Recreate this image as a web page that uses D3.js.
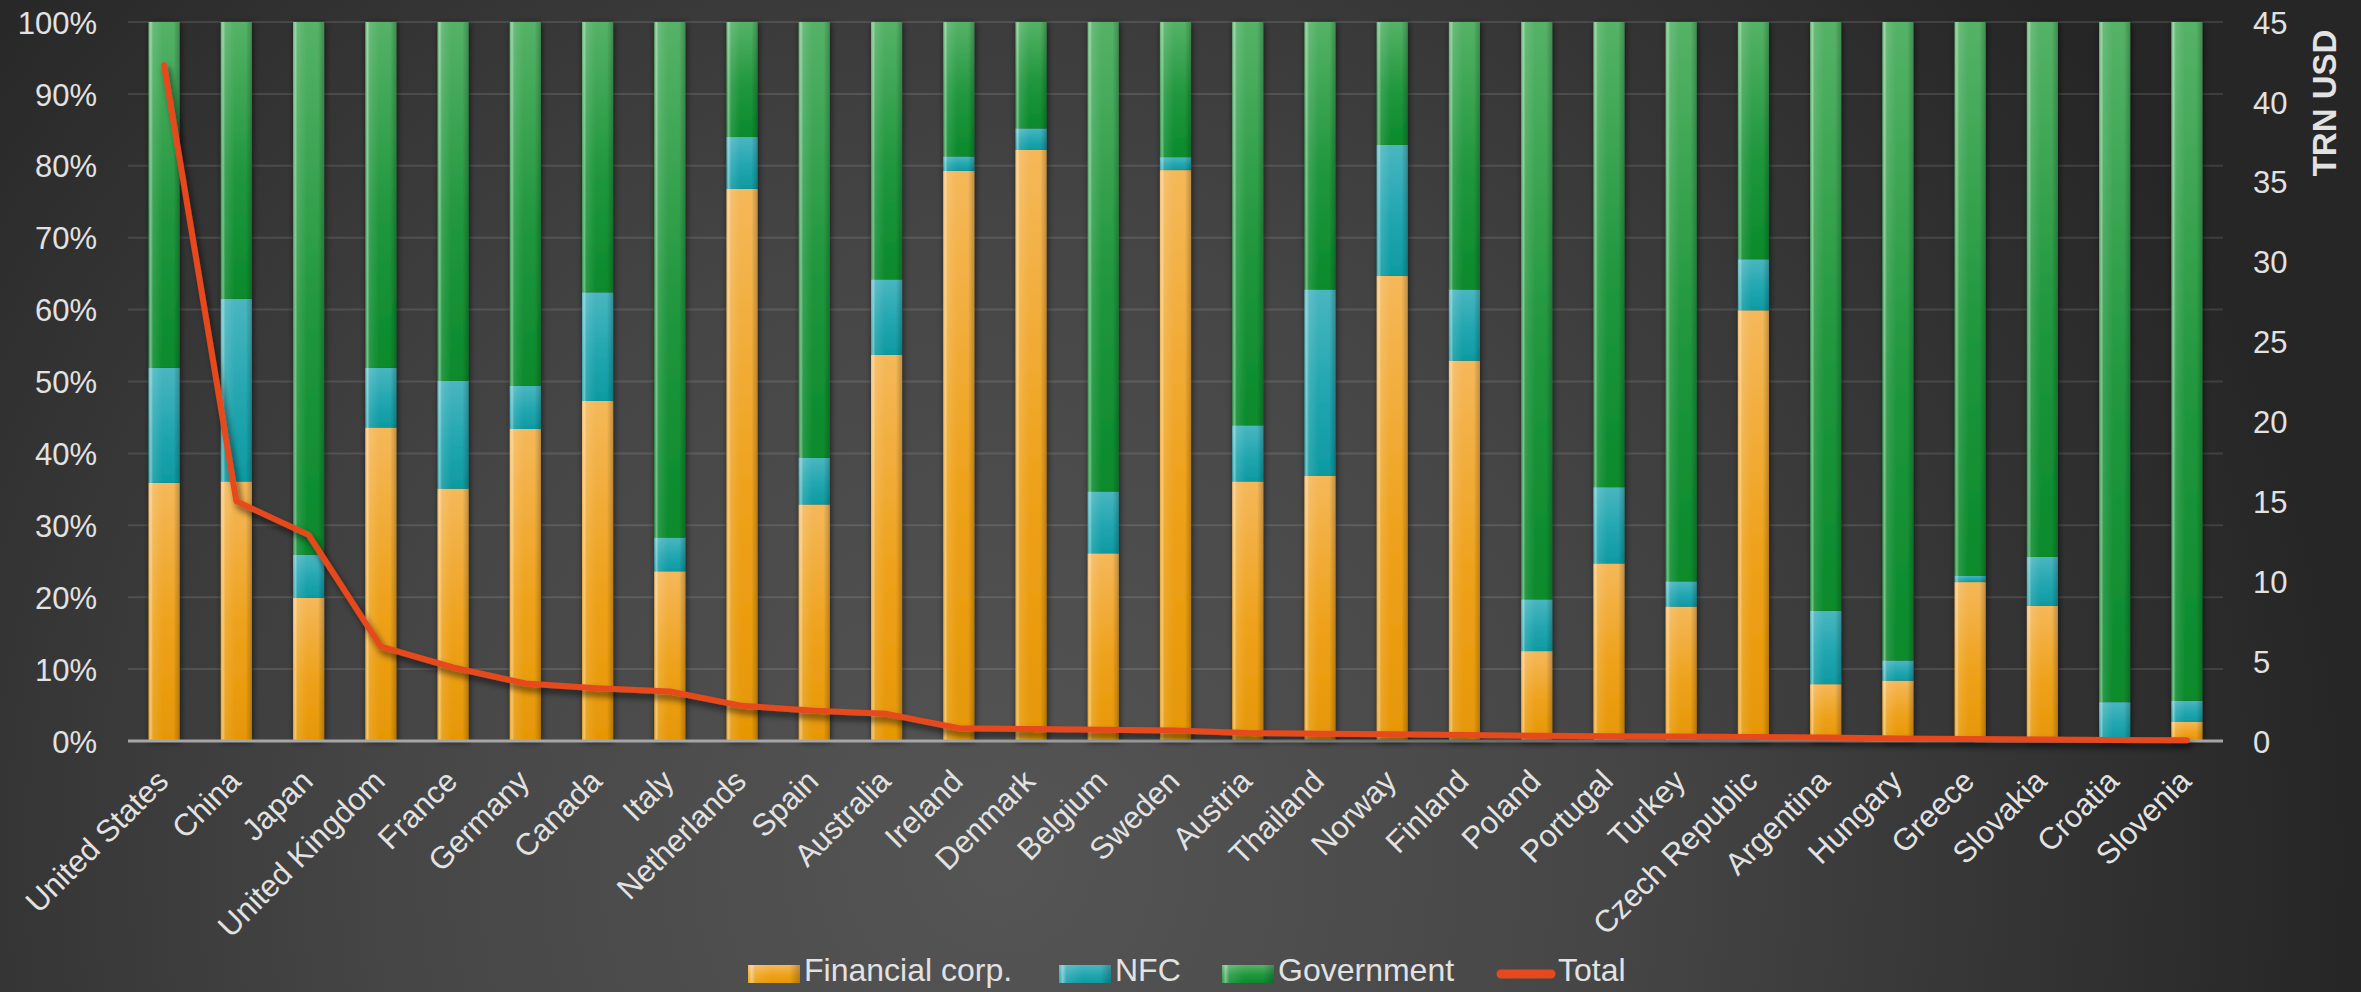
<!DOCTYPE html>
<html>
<head>
<meta charset="utf-8">
<script src="https://cdn.jsdelivr.net/npm/d3@7"></script>
<style>
  html, body { margin: 0; padding: 0; background: #2a2a2a; }
  svg { display: block; }
  text { font-family: "Liberation Sans", Arial, Helvetica, sans-serif; fill: #e2e2e2; }
</style>
</head>
<body>
<svg id="chart" width="2361" height="992"></svg>
<script>
// Countries, ordered by total amount outstanding
const countries = ["United States", "China", "Japan", "United Kingdom", "France", "Germany",
  "Canada", "Italy", "Netherlands", "Spain", "Australia", "Ireland", "Denmark", "Belgium",
  "Sweden", "Austria", "Thailand", "Norway", "Finland", "Poland", "Portugal", "Turkey",
  "Czech Republic", "Argentina", "Hungary", "Greece", "Slovakia", "Croatia", "Slovenia"];

// Shares by issuer sector, percent
const financialShare = [35.9, 36.1, 19.9, 43.6, 35.1, 43.4, 47.3, 23.6, 76.8, 32.9, 53.7, 79.3,
  82.2, 26.1, 79.4, 36.1, 36.9, 64.7, 52.9, 12.5, 24.7, 18.7, 59.9, 7.9, 8.4, 22.1, 18.8, 0, 2.7];
const nfcShare = [16.0, 25.4, 6.0, 8.3, 15.0, 6.0, 15.1, 4.7, 7.2, 6.5, 10.5, 2.0,
  3.0, 8.6, 1.8, 7.8, 25.9, 18.2, 9.9, 7.2, 10.6, 3.5, 7.1, 10.2, 2.8, 0.9, 6.8, 5.4, 2.9];
const governmentShare = [48.1, 38.5, 74.1, 48.1, 49.9, 50.6, 37.6, 71.7, 16.0, 60.6, 35.8, 18.7,
  14.8, 65.3, 18.8, 56.1, 37.2, 17.1, 37.2, 80.3, 64.7, 77.8, 33.0, 81.9, 88.8, 77.0, 74.4, 94.6, 94.4];

// Total outstanding, trillion USD (right axis)
const totalTrn = [42.3, 15.0, 12.9, 5.9, 4.6, 3.6, 3.3, 3.1, 2.2, 1.9, 1.7, 0.8,
  0.75, 0.7, 0.65, 0.5, 0.45, 0.42, 0.38, 0.33, 0.3, 0.28, 0.25, 0.22, 0.15, 0.12, 0.09, 0.07, 0.05];

const seriesKeys = ["financial", "nfc", "government"];
const seriesNames = ["Financial corp.", "NFC", "Government"];
const lineName = "Total";
const percentTicks = [0, 10, 20, 30, 40, 50, 60, 70, 80, 90, 100];
const trnTicks = [0, 5, 10, 15, 20, 25, 30, 35, 40, 45];
const rightAxisTitle = "TRN USD";

const rows = countries.map((c, i) => ({
  country: c,
  financial: financialShare[i],
  nfc: nfcShare[i],
  government: governmentShare[i],
  total: totalTrn[i]
}));

const W = 2361, H = 992;
const plot = { left: 128, right: 2223, top: 22, bottom: 741 };

const svg = d3.select("#chart");
const defs = svg.append("defs");

// Background: soft radial glow toward the lower middle
const bg = defs.append("radialGradient").attr("id", "bg")
  .attr("gradientUnits", "userSpaceOnUse")
  .attr("cx", 1000).attr("cy", 860).attr("r", 1350);
bg.append("stop").attr("offset", "0%").attr("stop-color", "#555555");
bg.append("stop").attr("offset", "45%").attr("stop-color", "#464646");
bg.append("stop").attr("offset", "100%").attr("stop-color", "#262626");
svg.append("rect").attr("width", W).attr("height", H).attr("fill", "url(#bg)");

// Segment fills: each segment shades from a lighter top to a deeper bottom
const palette = {
  financial: ["#f5b85a", "#eea21c", "#e69705"],
  nfc: ["#4ab6c0", "#22a6b0", "#0e9aa2"],
  government: ["#55b267", "#21973e", "#0a8a2c"]
};
Object.entries(palette).forEach(([k, c]) => {
  const g = defs.append("linearGradient").attr("id", "fill-" + k)
    .attr("x1", 0).attr("y1", 0).attr("x2", 0).attr("y2", 1);
  g.append("stop").attr("offset", "0%").attr("stop-color", c[0]);
  g.append("stop").attr("offset", "55%").attr("stop-color", c[1]);
  g.append("stop").attr("offset", "100%").attr("stop-color", c[2]);
});
// Glossy side highlight laid over every bar
const gloss = defs.append("linearGradient").attr("id", "gloss")
  .attr("x1", 0).attr("y1", 0).attr("x2", 1).attr("y2", 0);
[["0%", "#ffffff", 0.10], ["7%", "#ffffff", 0.45], ["14%", "#ffffff", 0.12],
 ["45%", "#ffffff", 0.0], ["80%", "#000000", 0.0], ["100%", "#000000", 0.22]]
  .forEach(([o, c, a]) => gloss.append("stop").attr("offset", o)
    .attr("stop-color", c).attr("stop-opacity", a));

const barShadow = defs.append("filter").attr("id", "barShadow")
  .attr("x", "-40%").attr("y", "-5%").attr("width", "180%").attr("height", "110%");
barShadow.append("feDropShadow").attr("dx", 1).attr("dy", 1)
  .attr("stdDeviation", 3).attr("flood-color", "#000").attr("flood-opacity", 0.6);

const lineShadow = defs.append("filter").attr("id", "lineShadow")
  .attr("x", "-5%").attr("y", "-5%").attr("width", "110%").attr("height", "110%");
lineShadow.append("feDropShadow").attr("dx", 3).attr("dy", 5)
  .attr("stdDeviation", 3).attr("flood-color", "#000").attr("flood-opacity", 0.55);

// Scales
const x = d3.scaleBand().domain(countries)
  .range([plot.left, plot.right]).paddingInner(0.57).paddingOuter(0.285);
const yPct = d3.scaleLinear().domain([0, 100]).range([plot.bottom, plot.top]);
const yTrn = d3.scaleLinear().domain([0, 45]).range([plot.bottom, plot.top]);

// Gridlines
svg.append("g").selectAll("line").data(percentTicks.filter(t => t > 0)).join("line")
  .attr("x1", plot.left).attr("x2", plot.right)
  .attr("y1", d => yPct(d)).attr("y2", d => yPct(d))
  .attr("stroke", "#ffffff").attr("stroke-opacity", 0.11).attr("stroke-width", 2);

// Left axis (percent)
const leftAxis = svg.append("g").attr("transform", `translate(${plot.left},0)`)
  .call(d3.axisLeft(yPct).tickValues(percentTicks).tickSize(0).tickPadding(31)
    .tickFormat(d => d + "%"));
leftAxis.select(".domain").remove();
leftAxis.selectAll("text").attr("font-size", 31).attr("fill", "#e2e2e2")
  .attr("font-family", "Liberation Sans, Arial, sans-serif").attr("dy", "0.36em");

// Right axis (trillion USD)
const rightAxis = svg.append("g").attr("transform", `translate(${plot.right},0)`)
  .call(d3.axisRight(yTrn).tickValues(trnTicks).tickSize(0).tickPadding(30));
rightAxis.select(".domain").remove();
rightAxis.selectAll("text").attr("font-size", 31).attr("fill", "#e2e2e2")
  .attr("font-family", "Liberation Sans, Arial, sans-serif").attr("dy", "0.36em");

svg.append("text")
  .attr("transform", `translate(2336,103) rotate(-90)`)
  .attr("text-anchor", "middle")
  .attr("font-size", 33).attr("font-weight", "bold")
  .text(rightAxisTitle);

// Stacked bars
const stack = d3.stack().keys(seriesKeys)(rows);
const barsG = svg.append("g").attr("filter", "url(#barShadow)");
stack.forEach(layer => {
  const k = layer.key;
  barsG.append("g").selectAll("rect").data(layer.filter(d => d[1] - d[0] > 0)).join("rect")
    .attr("x", d => x(d.data.country))
    .attr("width", x.bandwidth())
    .attr("y", d => yPct(d[1]))
    .attr("height", d => yPct(d[0]) - yPct(d[1]))
    .attr("fill", `url(#fill-${k})`);
});
// gloss overlay, one per column
barsG.append("g").selectAll("rect").data(rows).join("rect")
  .attr("x", d => x(d.country))
  .attr("width", x.bandwidth())
  .attr("y", yPct(100))
  .attr("height", yPct(0) - yPct(100))
  .attr("fill", "url(#gloss)");

// Baseline
svg.append("line")
  .attr("x1", plot.left).attr("x2", plot.right)
  .attr("y1", yPct(0)).attr("y2", yPct(0))
  .attr("stroke", "#a6a6a6").attr("stroke-width", 3);

// Total line on the right axis
const line = d3.line()
  .x(d => x(d.country) + x.bandwidth() / 2)
  .y(d => yTrn(d.total));
svg.append("path").datum(rows)
  .attr("d", line)
  .attr("fill", "none")
  .attr("stroke", "#e5491f")
  .attr("stroke-width", 6)
  .attr("stroke-linejoin", "round")
  .attr("stroke-linecap", "round")
  .attr("filter", "url(#lineShadow)");

// Category labels, rotated
svg.append("g").selectAll("text").data(countries).join("text")
  .attr("transform", d => `translate(${x(d) + x.bandwidth() / 2 + 6},${plot.bottom + 42}) rotate(-45)`)
  .attr("text-anchor", "end")
  .attr("font-size", 31)
  .text(d => d);

// Legend
const legend = svg.append("g");
const legendX = [748, 1059, 1222];
seriesKeys.forEach((k, i) => {
  const g = legend.append("g").attr("transform", `translate(${legendX[i]},965)`);
  g.append("rect").attr("width", 52).attr("height", 18).attr("fill", `url(#fill-${k})`);
  g.append("rect").attr("width", 52).attr("height", 18).attr("fill", "url(#gloss)");
  g.append("text").attr("x", 56).attr("y", 16)
    .attr("font-size", 32).text(seriesNames[i]);
});
const lg = legend.append("g").attr("transform", "translate(1497,974)");
lg.append("line").attr("x1", 4).attr("x2", 54).attr("y1", 0).attr("y2", 0)
  .attr("stroke", "#e5491f").attr("stroke-width", 9).attr("stroke-linecap", "round");
lg.append("text").attr("x", 61).attr("y", 7)
  .attr("font-size", 32).text(lineName);
</script>
</body>
</html>
